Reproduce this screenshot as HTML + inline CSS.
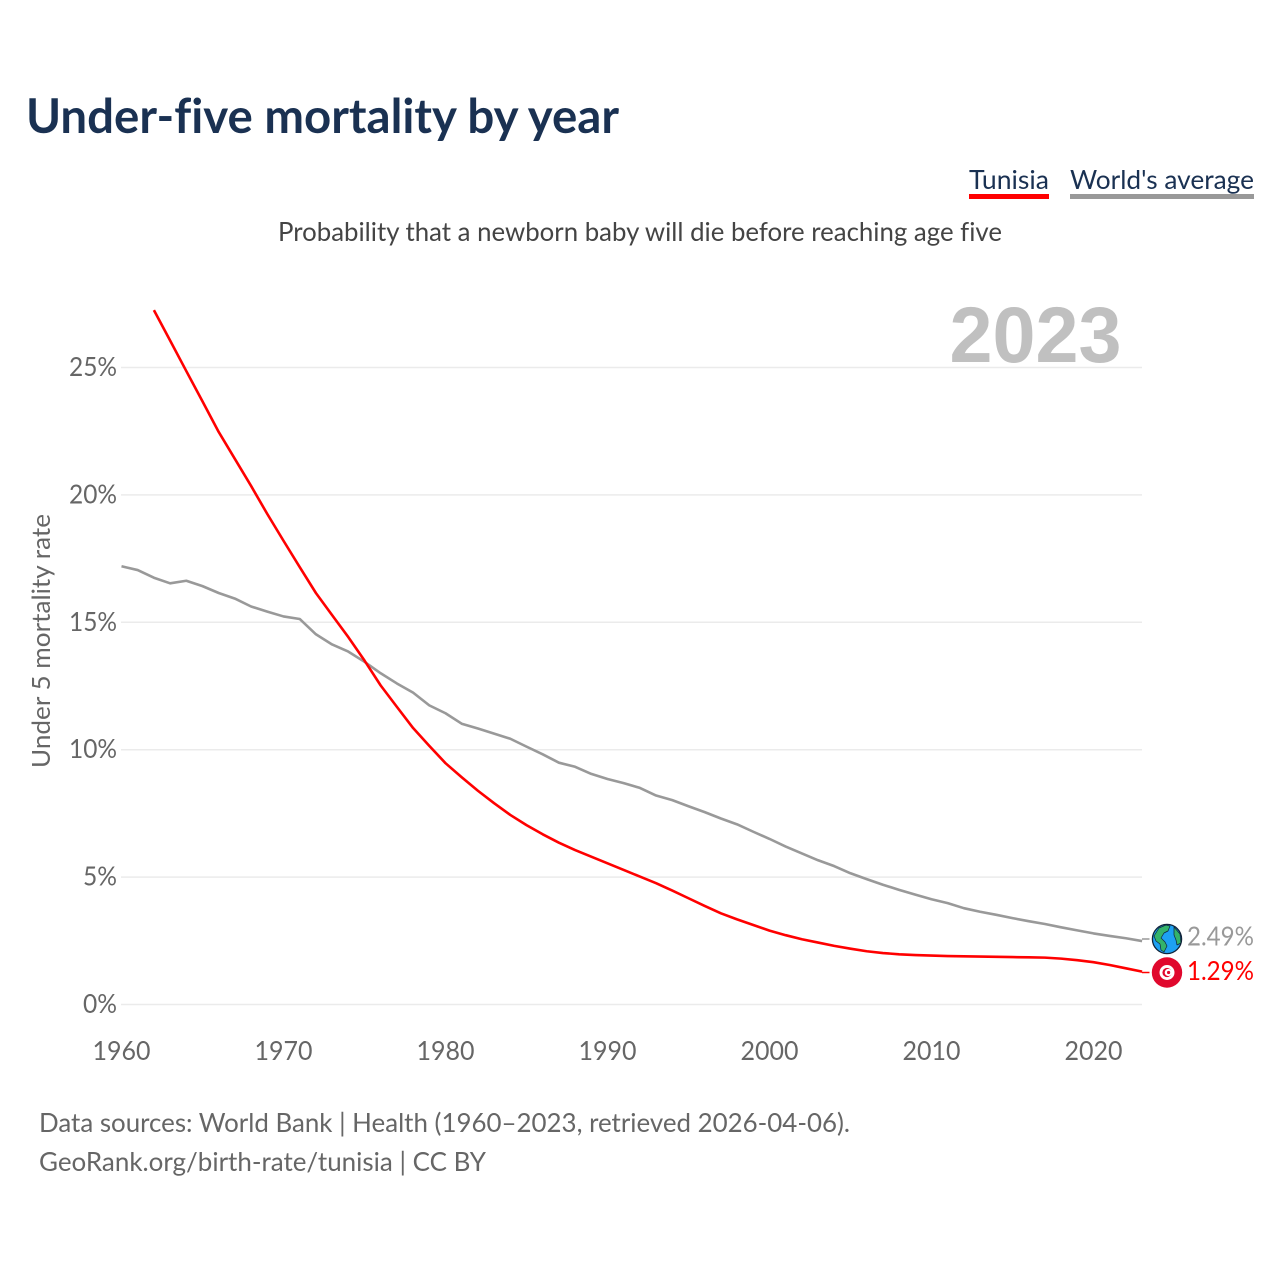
<!DOCTYPE html>
<html lang="en">
<head>
<meta charset="utf-8">
<title>Under-five mortality by year</title>
<style>
html,body{margin:0;padding:0;background:#fff;}
svg{display:block;}
text{font-family:"Lato","Carlito","Liberation Sans",sans-serif;font-variant-ligatures:none;}
.tick{font-size:26px;fill:#666;}
.src{font-size:26.5px;fill:#666;}
</style>
</head>
<body>
<svg id="chart" xmlns="http://www.w3.org/2000/svg" width="1280" height="1280" viewBox="0 0 1280 1280">
  <rect width="1280" height="1280" fill="#fff"/>
  <text x="26" y="133" font-size="47.5" font-weight="700" fill="#1a3152" textLength="593" lengthAdjust="spacingAndGlyphs">Under-five mortality by year</text>

  <text x="969" y="189" font-size="26.5" fill="#1a3152" textLength="80" lengthAdjust="spacingAndGlyphs">Tunisia</text>
  <rect x="969" y="194" width="80" height="5" fill="#ff0000"/>
  <text x="1070" y="189" font-size="26.5" fill="#1a3152" textLength="184" lengthAdjust="spacingAndGlyphs">World's average</text>
  <rect x="1070" y="194" width="184" height="5" fill="#999"/>

  <text x="278" y="241" font-size="26.5" fill="#444" textLength="724" lengthAdjust="spacingAndGlyphs">Probability that a newborn baby will die before reaching age five</text>

  <g id="grid"></g>
  <text x="1121.5" y="362" text-anchor="end" font-size="79" font-weight="700" fill="#c0c0c0" style="font-family:'Liberation Sans',sans-serif" textLength="172" lengthAdjust="spacingAndGlyphs">2023</text>
  <g id="yticks"></g>
  <g id="xticks"></g>
  <text transform="translate(50,641) rotate(-90)" text-anchor="middle" font-size="25.5" fill="#666" textLength="254" lengthAdjust="spacingAndGlyphs">Under 5 mortality rate</text>

  <path id="line-world" fill="none" stroke="#999" stroke-width="2.6" stroke-linejoin="round"/>
  <path id="line-tunisia" fill="none" stroke="#ff0000" stroke-width="2.6" stroke-linejoin="round"/>
  <line x1="1142" x2="1149.5" y1="939" y2="939" stroke="#999" stroke-width="1.5"/>
  <line x1="1142" x2="1149.5" y1="972.5" y2="972.5" stroke="#ff0000" stroke-width="1.5"/>

  <g transform="translate(1167,939)">
    <circle r="14.6" fill="#1da1f2"/>
    <path d="M-13-3 L-8-11 L-1-14 L3-13 L1-8 L-3-6 L-6-1 L-2 3 L0 7 L-3 13 L-6 11 L-7 5 L-11 2Z" fill="#33b36b" stroke="#10243a" stroke-width=".7" stroke-linejoin="round"/>
    <path d="M7-12 L13-5 L14 4 L10 6 L9 1 L7-4Z" fill="#33b36b" stroke="#10243a" stroke-width=".7" stroke-linejoin="round"/>
    <circle r="14.6" fill="none" stroke="#10243a" stroke-width="1.3"/>
  </g>
  <g transform="translate(1167,972.5)">
    <circle r="15.2" fill="#e0082d"/>
    <circle r="7.5" fill="#fff"/>
    <circle r="4.6" fill="#e0082d"/>
    <circle cx="1.3" r="3.6" fill="#fff"/>
    <circle cx="1.6" r="1.6" fill="#e0082d"/>
  </g>
  <text id="val-world" x="1187" y="945.5" font-size="26" fill="#999" textLength="67" lengthAdjust="spacingAndGlyphs"></text>
  <text id="val-tunisia" x="1187" y="980" font-size="26" fill="#ff0000" textLength="67" lengthAdjust="spacingAndGlyphs"></text>

  <text class="src" x="39" y="1132" textLength="811" lengthAdjust="spacingAndGlyphs">Data sources: World Bank | Health (1960–2023, retrieved 2026-04-06).</text>
  <text class="src" x="39" y="1171" textLength="447" lengthAdjust="spacingAndGlyphs">GeoRank.org/birth-rate/tunisia | CC BY</text>
</svg>
<script>
const worldStartYear = 1960;
const worldValues = [17.2,17.05,16.75,16.53,16.63,16.42,16.15,15.93,15.62,15.42,15.23,15.13,14.53,14.13,13.85,13.45,13.0,12.6,12.24,11.74,11.43,11.02,10.83,10.63,10.43,10.12,9.82,9.49,9.33,9.05,8.85,8.69,8.5,8.2,8.02,7.78,7.55,7.3,7.07,6.78,6.5,6.2,5.93,5.66,5.43,5.15,4.92,4.7,4.5,4.31,4.13,3.98,3.78,3.64,3.52,3.39,3.27,3.16,3.03,2.91,2.79,2.69,2.6,2.49];
const tunisiaStartYear = 1962;
const tunisiaValues = [27.25,26.06,24.86,23.67,22.47,21.41,20.35,19.25,18.2,17.17,16.15,15.28,14.42,13.5,12.52,11.68,10.85,10.15,9.47,8.92,8.39,7.9,7.44,7.04,6.68,6.35,6.06,5.8,5.54,5.28,5.02,4.76,4.47,4.17,3.87,3.58,3.34,3.12,2.9,2.72,2.56,2.43,2.3,2.19,2.09,2.02,1.97,1.94,1.92,1.9,1.89,1.88,1.87,1.86,1.85,1.84,1.8,1.74,1.66,1.55,1.42,1.29];
const yTickValues = [0,5,10,15,20,25];
const xTickYears = [1960,1970,1980,1990,2000,2010,2020];

const xScale = function(year){ return 121.5 + (year - 1960) * 16.2; };
const yScale = function(v){ return 1004.5 - v * 25.48; };
const NS = 'http://www.w3.org/2000/svg';

const grid = document.getElementById('grid');
const yticks = document.getElementById('yticks');
const xticks = document.getElementById('xticks');

yTickValues.forEach(function(v){
  const l = document.createElementNS(NS,'line');
  l.setAttribute('x1', 121);
  l.setAttribute('x2', 1142);
  l.setAttribute('y1', yScale(v));
  l.setAttribute('y2', yScale(v));
  l.setAttribute('stroke', '#ebebeb');
  l.setAttribute('stroke-width', '1.5');
  
  
  grid.appendChild(l);
  const t = document.createElementNS(NS,'text');
  const label = v + '%';
  t.setAttribute('x', 117 - (20 + 14 * String(v).length));
  t.setAttribute('y', yScale(v) + 8.5);
  t.setAttribute('class', 'tick');
  t.setAttribute('textLength', 20 + 14 * String(v).length);
  t.setAttribute('lengthAdjust', 'spacingAndGlyphs');
  
  
  t.textContent = label;
  yticks.appendChild(t);
});

xTickYears.forEach(function(y){
  const t = document.createElementNS(NS,'text');
  t.setAttribute('x', xScale(y) - 29);
  t.setAttribute('y', 1060);
  t.setAttribute('class', 'tick');
  t.setAttribute('textLength', 58);
  t.setAttribute('lengthAdjust', 'spacingAndGlyphs');
  
  
  t.textContent = y;
  xticks.appendChild(t);
});

function linePath(values, start){
  return values.map(function(v,i){
    return (i ? 'L' : 'M') + xScale(start + i).toFixed(2) + ' ' + yScale(v).toFixed(2);
  }).join(' ');
}
document.getElementById('line-world').setAttribute('d', linePath(worldValues, worldStartYear));
document.getElementById('line-tunisia').setAttribute('d', linePath(tunisiaValues, tunisiaStartYear));

const lastWorld = worldValues[worldValues.length - 1];
const lastTunisia = tunisiaValues[tunisiaValues.length - 1];
document.getElementById('val-world').textContent = lastWorld.toFixed(2) + '%';
document.getElementById('val-tunisia').textContent = lastTunisia.toFixed(2) + '%';
</script>
</body>
</html>
